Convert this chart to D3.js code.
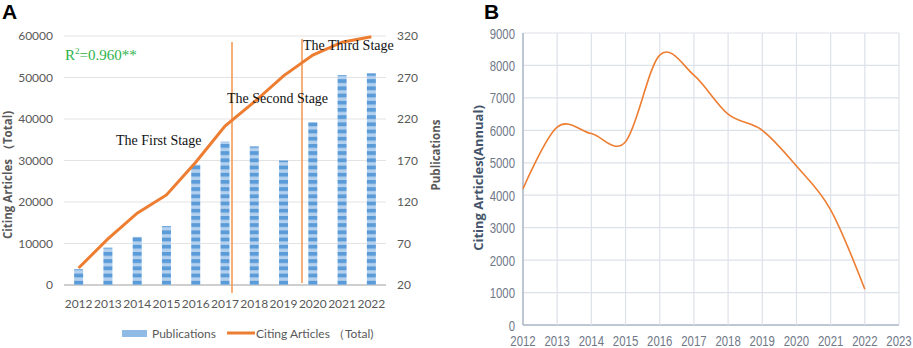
<!DOCTYPE html>
<html>
<head>
<meta charset="utf-8">
<title>citing articles</title>
<script src="https://cdn.jsdelivr.net/npm/d3@7"></script>
<style>
  body { margin: 0; background: #fff; }
  svg { display: block; }
</style>
</head>
<body>
<script>
// data
var years = ["2012","2013","2014","2015","2016","2017","2018","2019","2020","2021","2022"]
var publications = [39, 65, 78, 91, 165, 193, 187, 170, 216, 273, 275]
var citingTotal = [4100, 11100, 17300, 21700, 29600, 38300, 44100, 50400, 55400, 58500, 59800]
var leftTicks = [0, 10000, 20000, 30000, 40000, 50000, 60000]
var rightTicks = [20, 70, 120, 170, 220, 270, 320]

var annualYears = [2012, 2013, 2014, 2015, 2016, 2017, 2018, 2019, 2020, 2021, 2022]
var citingAnnual = [4200, 6100, 5900, 5650, 8320, 7700, 6500, 6000, 4900, 3550, 1100]
var annualXTicks = [2012, 2013, 2014, 2015, 2016, 2017, 2018, 2019, 2020, 2021, 2022, 2023]
var annualYTicks = [0, 1000, 2000, 3000, 4000, 5000, 6000, 7000, 8000, 9000]

var W = 913, H = 348
var svg = d3.select("body").append("svg").attr("width", W).attr("height", H)

// stripes for the bars
var pat = svg.append("defs").append("pattern")
    .attr("id", "stripes").attr("patternUnits", "userSpaceOnUse")
    .attr("width", 10).attr("height", 7.2)
pat.append("rect").attr("width", 10).attr("height", 7.2).attr("fill", "#b3d0ee")
pat.append("rect").attr("width", 10).attr("height", 3.8).attr("fill", "#5a9bd8")

// ---------- panel A ----------
var tickFont = "Lato, 'Open Sans', sans-serif"
var A = svg.append("g")
var x0 = 64, x1 = 386, yTop = 36, yBot = 285

var xBand = d3.scaleBand().domain(years).range([x0, x1])
var yLeft = d3.scaleLinear().domain([0, 60000]).range([yBot, yTop])
var yRight = d3.scaleLinear().domain([20, 320]).range([yBot, yTop])

// gridlines
A.selectAll(".grid").data(leftTicks).enter().append("line")
    .attr("x1", x0).attr("x2", x1)
    .attr("y1", d => yLeft(d)).attr("y2", d => yLeft(d))
    .attr("stroke", d => d == 0 ? "#bfbfbf" : "#e3e3e3").attr("stroke-width", d => d == 0 ? 1.5 : 1)

A.selectAll(".lt").data(leftTicks).enter().append("text")
    .attr("x", 53).attr("y", d => yLeft(d) + 4)
    .attr("text-anchor", "end").attr("font-family", tickFont).attr("font-size", 12)
    .attr("fill", "#595959").text(d => d)

A.selectAll(".rt").data(rightTicks).enter().append("text")
    .attr("x", 397).attr("y", d => yRight(d) + 4)
    .attr("font-family", tickFont).attr("font-size", 12)
    .attr("fill", "#595959").text(d => d)

A.selectAll(".xt").data(years).enter().append("text")
    .attr("x", d => xBand(d) + xBand.bandwidth() / 2).attr("y", 308)
    .attr("text-anchor", "middle").attr("font-family", tickFont).attr("font-size", 12)
    .attr("fill", "#595959").text(d => d)

// bars
A.selectAll(".bar").data(publications).enter().append("rect")
    .attr("x", (d, i) => xBand(years[i]) + xBand.bandwidth() / 2 - 4.5)
    .attr("width", 9)
    .attr("y", d => yRight(d))
    .attr("height", d => yBot - yRight(d))
    .attr("fill", "url(#stripes)")

// stage dividers
A.append("line").attr("x1", 232).attr("x2", 232).attr("y1", 42).attr("y2", 293)
    .attr("stroke", "#f0954f").attr("stroke-width", 1.5)
A.append("line").attr("x1", 302).attr("x2", 302).attr("y1", 39).attr("y2", 283)
    .attr("stroke", "#f0954f").attr("stroke-width", 1.5)

// cumulative line
var line = d3.line()
    .x((d, i) => xBand(years[i]) + xBand.bandwidth() / 2)
    .y(d => yLeft(d))
A.append("path").datum(citingTotal).attr("d", line)
    .attr("fill", "none").attr("stroke", "#ed7d31").attr("stroke-width", 3)

var serif = "'Liberation Serif', 'Times New Roman', serif"
A.append("text").attr("x", 116).attr("y", 145).attr("font-family", serif).attr("font-size", 14)
    .attr("fill", "#111").text("The First Stage")
A.append("text").attr("x", 227).attr("y", 103).attr("font-family", serif).attr("font-size", 14)
    .attr("fill", "#111").text("The Second Stage")
A.append("text").attr("x", 303).attr("y", 50).attr("font-family", serif).attr("font-size", 14)
    .attr("fill", "#111").text("The Third Stage")

var r2 = A.append("text").attr("x", 65).attr("y", 60).attr("font-family", serif).attr("font-size", 15)
    .attr("fill", "#2db34a")
r2.append("tspan").text("R")
r2.append("tspan").attr("font-size", 9).attr("dy", -6).text("2")
r2.append("tspan").attr("dy", 6).text("=0.960**")

// axis titles
A.append("text").attr("transform", "translate(12,175) rotate(-90)")
    .attr("text-anchor", "middle").attr("font-family", "'Open Sans', sans-serif")
    .attr("font-weight", "bold").attr("font-size", 11.5).attr("fill", "#595959")
    .text("Citing Articles （Total)")
A.append("text").attr("transform", "translate(440,155) rotate(-90)")
    .attr("text-anchor", "middle").attr("font-family", "'Open Sans', sans-serif")
    .attr("font-weight", "bold").attr("font-size", 11.5).attr("fill", "#595959")
    .text("Publications")

// legend
A.append("rect").attr("x", 122).attr("y", 330).attr("width", 25).attr("height", 7).attr("fill", "#8fbbe6")
A.append("text").attr("x", 152).attr("y", 338).attr("font-family", tickFont).attr("font-size", 12)
    .attr("fill", "#595959").text("Publications")
A.append("line").attr("x1", 227).attr("x2", 255).attr("y1", 333).attr("y2", 333)
    .attr("stroke", "#ed7d31").attr("stroke-width", 3)
A.append("text").attr("x", 256).attr("y", 338).attr("font-family", tickFont).attr("font-size", 12)
    .attr("fill", "#595959").text("Citing Articles （Total)")

A.append("text").attr("x", 2).attr("y", 19).attr("font-family", "'Liberation Sans', Arial, sans-serif")
    .attr("font-weight", "bold").attr("font-size", 21).text("A")

// ---------- panel B ----------
var B = svg.append("g")
var bx0 = 523, bx1 = 899, byTop = 33, byBot = 325
var xB = d3.scaleLinear().domain([2012, 2023]).range([bx0, bx1])
var yB = d3.scaleLinear().domain([0, 9000]).range([byBot, byTop])
var narrow = "'Liberation Sans', Arial, sans-serif"

B.selectAll(".hg").data(annualYTicks).enter().append("line")
    .attr("x1", bx0).attr("x2", bx1)
    .attr("y1", d => yB(d)).attr("y2", d => yB(d))
    .attr("stroke", d => d == 0 ? "#aab3c5" : "#dde1ea").attr("stroke-width", d => d == 0 ? 1.5 : 1.2)
B.selectAll(".vg").data(annualXTicks).enter().append("line")
    .attr("x1", d => xB(d)).attr("x2", d => xB(d))
    .attr("y1", byTop).attr("y2", byBot)
    .attr("stroke", d => d == 2012 ? "#aab3c5" : "#dde1ea").attr("stroke-width", d => d == 2012 ? 1.5 : 1.2)

// condensed look: squeeze the labels horizontally
B.selectAll(".byt").data(annualYTicks).enter().append("text")
    .attr("transform", d => "translate(515," + (yB(d) + 5.5) + ") scale(0.76,1)")
    .attr("text-anchor", "end").attr("font-family", narrow).attr("font-size", 15)
    .attr("fill", "#707888").text(d => d)
B.selectAll(".bxt").data(annualXTicks).enter().append("text")
    .attr("transform", d => "translate(" + xB(d) + ",346) scale(0.76,1)")
    .attr("text-anchor", "middle").attr("font-family", narrow).attr("font-size", 15)
    .attr("fill", "#707888").text(d => d)

var lineB = d3.line()
    .x((d, i) => xB(annualYears[i]))
    .y(d => yB(d))
    .curve(d3.curveCatmullRom.alpha(0))
B.append("path").datum(citingAnnual).attr("d", lineB)
    .attr("fill", "none").attr("stroke", "#ed7d31").attr("stroke-width", 1.6)

B.append("text").attr("transform", "translate(483,178) rotate(-90)")
    .attr("text-anchor", "middle").attr("font-family", "'Open Sans', sans-serif")
    .attr("font-weight", "bold").attr("font-size", 13).attr("fill", "#44546a")
    .text("Citing Articles(Annual)")

B.append("text").attr("x", 484).attr("y", 19).attr("font-family", "'Liberation Sans', Arial, sans-serif")
    .attr("font-weight", "bold").attr("font-size", 21).text("B")
</script>
</body>
</html>
